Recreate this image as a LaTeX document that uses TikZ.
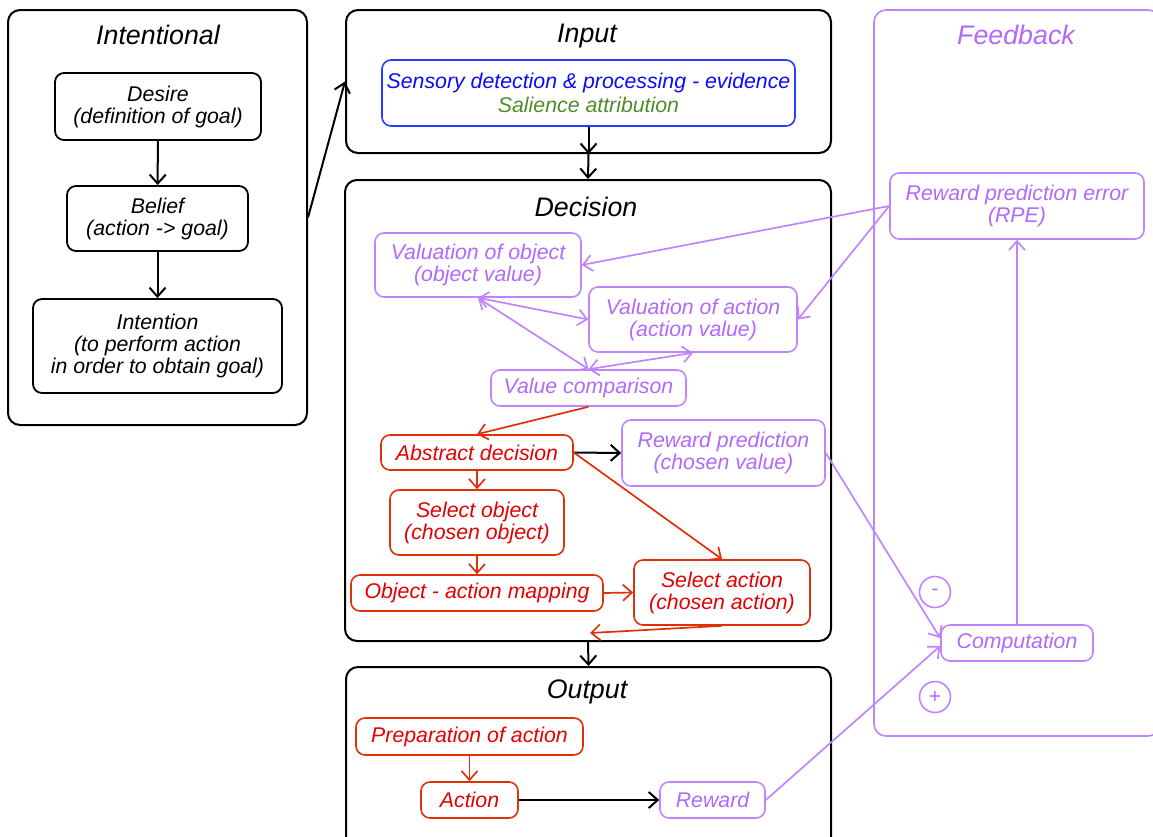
\documentclass[tikz,border=0pt]{standalone}
\usepackage{fontspec}
\setmainfont{Liberation Sans}
\usetikzlibrary{arrows.meta}
\definecolor{fbpurple}{RGB}{192,132,255}
\definecolor{fbptext}{RGB}{178,104,255}
\definecolor{dred}{RGB}{228,0,0}
\definecolor{dredline}{RGB}{224,48,8}
\definecolor{dblue}{RGB}{10,10,255}
\definecolor{dblueline}{RGB}{40,60,255}
\definecolor{dgreen}{RGB}{78,140,42}
\newcommand\dgbody{\fontsize{21.3}{22}\selectfont\itshape}
\newcommand\dgtitle{\fontsize{26.8}{30}\selectfont\itshape}
\begin{document}
\begin{tikzpicture}[x=1pt,y=-1pt,
  cont/.style={draw, rounded corners=12pt, line width=2pt, inner sep=0pt},
  fbcont/.style={draw=fbpurple, rounded corners=12pt, line width=1.6pt, inner sep=0pt},
  bx/.style={draw, rounded corners=9pt, line width=1.8pt, align=center, inner sep=0pt, font=\dgbody},
  pbx/.style={bx, draw=fbpurple, text=fbptext, line width=1.6pt},
  rbx/.style={bx, draw=dredline, text=dred, line width=1.6pt},
  ttl/.style={font=\dgtitle, inner sep=0pt},
  barb/.style={-{Straight Barb[length=9pt,width=16pt]}},
  blk/.style={barb, line width=2pt},
  pur/.style={barb, draw=fbpurple, line width=1.7pt},
  pur2/.style={{Straight Barb[length=9pt,width=16pt]}-{Straight Barb[length=9pt,width=16pt]}, draw=fbpurple, line width=1.7pt},
  redarr/.style={barb, draw=dredline, line width=1.7pt},
  pcirc/.style={draw=fbpurple, text=fbptext, circle, line width=1.6pt, minimum size=31pt, inner sep=0pt, font=\fontsize{21}{21}\selectfont}
]
\useasboundingbox (0,0) rectangle (1153,836);

% containers
\node[cont] (intent) at (157.5,217.5) [minimum width=299pt, minimum height=415pt] {};
\node[cont] (input) at (588.5,81.5) [minimum width=485pt, minimum height=143pt] {};
\node[cont] (decision) at (588,410.5) [minimum width=486pt, minimum height=461pt] {};
\node[cont] (output) at (588.5,758.5) [minimum width=485pt, minimum height=183pt] {};
\node[fbcont] (feedback) at (1017,373) [minimum width=286pt, minimum height=726pt] {};

% titles
\node[ttl] (tintent) at (158,35) {Intentional};
\node[ttl] (tinput) at (587,36) {Input};
\node[ttl] (tdecision) at (586,207) {Decision};
\node[ttl] (toutput) at (587,692) {Output};
\node[ttl, text=fbptext] (tfeedback) at (1016,35) {Feedback};

% intentional
\node[bx, minimum width=206pt, minimum height=67pt] (desire) at (158,106.5) {Desire\\(definition of goal)};
\node[bx, minimum width=181pt, minimum height=65pt] (belief) at (157.5,218.5) {Belief\\(action -> goal)};
\node[bx, minimum width=249pt, minimum height=94pt] (intention) at (157.5,346) {Intention\\(to perform action\\in order to obtain goal)};

% input
\node[bx, draw=dblueline, line width=1.6pt, minimum width=413pt, minimum height=66pt] (sens) at (588.5,93)
  {\textcolor{dblue}{Sensory detection \& processing - evidence}\\[2.5pt]\textcolor{dgreen}{Salience attribution}};

% decision
\node[pbx, minimum width=206pt, minimum height=64pt] (valobj) at (478,265) {Valuation of object\\(object value)};
\node[pbx, minimum width=208pt, minimum height=65pt] (valact) at (693,319.5) {Valuation of action\\(action value)};
\node[pbx, minimum width=195pt, minimum height=36pt] (comp) at (588.5,388) {Value comparison};
\node[rbx, minimum width=192pt, minimum height=35pt] (abst) at (477,452.5) {Abstract decision};
\node[pbx, minimum width=203pt, minimum height=66pt] (rewpred) at (723.5,453) {Reward prediction\\(chosen value)};
\node[rbx, minimum width=174pt, minimum height=65pt] (selobj) at (477,522.5) {Select object\\(chosen object)};
\node[rbx, minimum width=252pt, minimum height=36pt] (oam) at (477,593) {Object - action mapping};
\node[rbx, minimum width=176pt, minimum height=65pt] (selact) at (722,592.5) {Select action\\(chosen action)};
\coordinate (decend) at (590,633);

% output
\node[rbx, minimum width=227pt, minimum height=37pt] (prep) at (469.5,736.5) {Preparation of action};
\node[rbx, minimum width=97pt, minimum height=36pt] (action) at (469.5,800) {Action};
\node[pbx, minimum width=105pt, minimum height=36pt] (reward) at (712.5,800) {Reward};

% feedback
\node[pbx, minimum width=254pt, minimum height=66pt] (rpe) at (1017,206) {Reward prediction error\\(RPE)};
\node[pbx, minimum width=152pt, minimum height=36pt] (compu) at (1017,643) {Computation};
\node[pcirc] (minus) at (935,592) {-};
\node[pcirc] (plus) at (935,697) {+};

% black connectors
\draw[blk] (desire) -- (belief);
\draw[blk] (belief) -- (intention);
\draw[blk] (intent.east) -- (input.west);
\draw[blk] (sens.south) -- (input.south);
\draw[blk] (input.south) -- (decision.north);
\draw[blk] (decision.south) -- (output.north);
\draw[blk] (abst.east) -- (rewpred.west);
\draw[blk] (action.east) -- (reward.west);

% purple connectors
\draw[pur] (rpe.west) -- (valobj.east);
\draw[pur] (rpe.west) -- (valact.east);
\draw[pur2] (valobj.south) -- (valact.west);
\draw[pur2] (valobj.south) -- (comp.north);
\draw[pur2] (comp.north) -- (valact.south);
\draw[pur] (rewpred.east) -- ([yshift=5pt]compu.west);
\draw[pur] (reward.east) -- ([yshift=-3pt]compu.west);
\draw[pur] (compu.north) -- (rpe.south);

% red connectors
\draw[redarr] (comp.south) -- (abst.north);
\draw[redarr] (abst.south) -- (selobj.north);
\draw[redarr] (abst.east) -- (selact.north);
\draw[redarr] (selobj.south) -- (oam.north);
\draw[redarr] (oam.east) -- (selact.west);
\draw[redarr] (selact.south) -- (decend);
\draw[redarr] (prep.south) -- (action.north);
\end{tikzpicture}
\end{document}
